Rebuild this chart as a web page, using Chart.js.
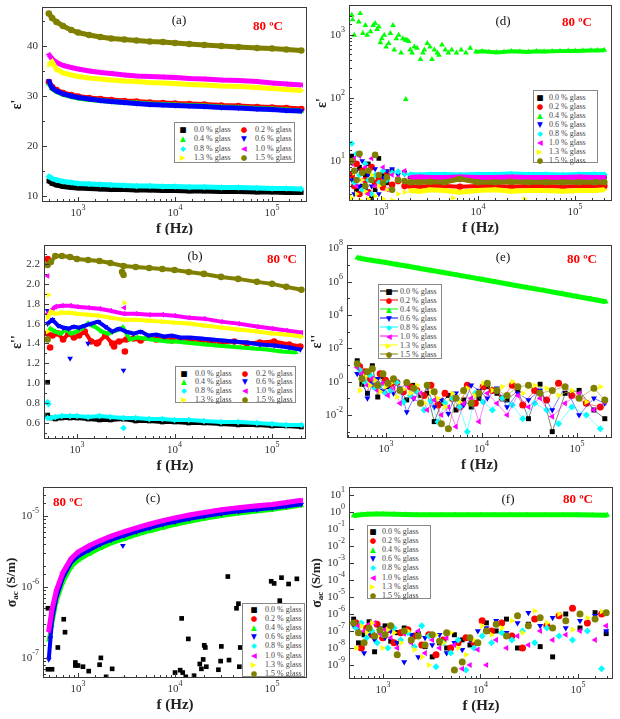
<!DOCTYPE html>
<html>
<head>
<meta charset="utf-8">
<script src="https://cdn.jsdelivr.net/npm/chart.js@4.4.1/dist/chart.umd.min.js"></script>
<style>
  body { margin: 0; background: #fff; width: 620px; height: 719px; overflow: hidden; position: relative; }
  .panel { position: absolute; }
  .panel canvas { position: absolute; left: 0; top: 0; }
  .lg { position: absolute; background: #fff; border: 1px solid #888; box-sizing: border-box; }
  .lg span { position: absolute; white-space: nowrap; line-height: 1; }
  .lg .g { font: 7.5px "DejaVu Sans", sans-serif; transform: translate(-50%, -50%); }
  .lg .t { font: 8px "Liberation Serif", serif; color: #444; transform: translateY(-50%); }
  .lg .ln { height: 1px; transform: translateY(-50%); }
</style>
</head>
<body>
<script>
// 系列の共通情報
const LABELS = ['0.0 % glass', '0.2 % glass', '0.4 % glass', '0.6 % glass', '0.8 % glass', '1.0 % glass', '1.3 % glass', '1.5 % glass'];
const COLORS = ['#000000', '#ff0000', '#00ff00', '#0000ff', '#00ffff', '#ff00ff', '#ffff00', '#808000'];
const SHAPES = ['rect', 'circle', 'triangle', 'triangle', 'rectRot', 'triangle', 'triangle', 'circle'];
const TURNS = [0, 0, 0, 180, 0, 270, 90, 0];
const GLYPHS = ['■', '●', '▲', '▼', '◆', '◀', '▶', '●'];

// 周波数 (Hz)
const freqS = [500, 540, 600, 700, 850, 1000, 1300, 1700, 2200, 3000, 4000, 5500, 7500, 10000, 14000, 20000, 30000, 45000, 70000, 100000, 140000, 200000];
const freqN1 = [500, 560, 640, 720, 820, 930, 1050, 1200, 1400, 1650, 1950, 2300, 2700, 3200, 3800, 4500, 5400, 6500, 7800, 9400, 11500, 14500, 18500, 24000, 31000, 41000, 55000, 75000, 105000, 150000, 195000];
const freqN2 = [530, 600, 680, 770, 870, 990, 1120, 1300, 1520, 1800, 2100, 2500, 2950, 3500, 4150, 4950, 5900, 7100, 8600, 10400, 13000, 16500, 21000, 27000, 36000, 48000, 64000, 88000, 125000, 175000];
const freqD = [500, 530, 560, 600, 640, 690, 740, 800, 870, 950, 1050, 1150, 1300, 1500, 1750, 2000, 2500, 3200, 4500, 6500, 10000, 15000, 22000, 33000, 50000, 75000, 110000, 160000, 200000];

// (a) ε'
const aBlack = [13.0, 12.5, 12.2, 11.9, 11.7, 11.6, 11.5, 11.4, 11.3, 11.3, 11.2, 11.2, 11.1, 11.1, 11.0, 11.0, 10.9, 10.9, 10.8, 10.8, 10.7, 10.7];
const aRed = [32.8, 31.8, 31.2, 30.6, 30.2, 29.9, 29.6, 29.4, 29.2, 29.0, 28.9, 28.7, 28.6, 28.5, 28.4, 28.3, 28.1, 28.0, 27.8, 27.7, 27.6, 27.4];
const aGreen = [32.5, 31.5, 30.9, 30.3, 29.9, 29.6, 29.3, 29.1, 28.9, 28.7, 28.6, 28.4, 28.3, 28.2, 28.1, 28.0, 27.8, 27.7, 27.5, 27.4, 27.2, 27.0];
const aBlue = [33.0, 31.6, 31.0, 30.4, 30.0, 29.7, 29.4, 29.1, 28.9, 28.7, 28.5, 28.3, 28.2, 28.1, 28.0, 27.9, 27.7, 27.6, 27.4, 27.3, 27.1, 27.0];
const aCyan = [13.9, 13.5, 13.2, 12.9, 12.7, 12.5, 12.4, 12.3, 12.2, 12.1, 12.0, 12.0, 11.9, 11.9, 11.8, 11.8, 11.7, 11.7, 11.6, 11.5, 11.5, 11.4];
const aMagenta = [38.3, 37.4, 36.7, 36.1, 35.7, 35.4, 35.0, 34.7, 34.5, 34.2, 34.0, 33.9, 33.8, 33.7, 33.5, 33.4, 33.2, 33.1, 32.9, 32.6, 32.4, 32.2];
const aYellow = [36.2, 36.8, 35.3, 34.6, 34.2, 33.9, 33.6, 33.4, 33.2, 33.0, 32.9, 32.7, 32.6, 32.5, 32.3, 32.2, 32.0, 31.9, 31.7, 31.5, 31.3, 31.1];
const aOlive = [46.5, 45.6, 44.8, 44.0, 43.2, 42.7, 42.2, 41.8, 41.5, 41.3, 41.1, 40.9, 40.8, 40.6, 40.4, 40.2, 40.0, 39.8, 39.6, 39.5, 39.3, 39.1];

// (b) ε''
const bBlack = [0.68, 0.65, 0.64, 0.65, 0.65, 0.65, 0.64, 0.63, 0.63, 0.64, 0.62, 0.62, 0.61, 0.61, 0.60, 0.60, 0.59, 0.58, 0.58, 0.57, 0.57, 0.56];
const bCyan = [0.65, 0.65, 0.66, 0.67, 0.67, 0.67, 0.66, 0.67, 0.66, 0.65, 0.65, 0.64, 0.64, 0.63, 0.63, 0.62, 0.61, 0.61, 0.60, 0.59, 0.58, 0.58];
const bMagenta = [1.70, 1.73, 1.77, 1.78, 1.78, 1.77, 1.76, 1.75, 1.73, 1.70, 1.70, 1.69, 1.69, 1.68, 1.66, 1.65, 1.62, 1.60, 1.57, 1.55, 1.53, 1.51];
const bYellow = [1.66, 1.72, 1.70, 1.71, 1.71, 1.70, 1.69, 1.68, 1.66, 1.64, 1.64, 1.63, 1.62, 1.61, 1.60, 1.58, 1.56, 1.54, 1.52, 1.50, 1.49, 1.47];
const bOlive = [2.19, 2.22, 2.28, 2.28, 2.27, 2.25, 2.24, 2.23, 2.21, 2.18, 2.17, 2.16, 2.15, 2.14, 2.12, 2.10, 2.07, 2.05, 2.02, 2.00, 1.97, 1.94];
const bRed = [1.50, 1.48, 1.50, 1.44, 1.50, 1.46, 1.48, 1.52, 1.42, 1.41, 1.48, 1.40, 1.42, 1.44, 1.45, 1.43, 1.46, 1.44, 1.45, 1.43, 1.44, 1.42, 1.43, 1.42, 1.41, 1.42, 1.40, 1.41, 1.42, 1.39, 1.37];
const bGreen = [1.55, 1.52, 1.50, 1.54, 1.50, 1.52, 1.55, 1.60, 1.57, 1.52, 1.50, 1.53, 1.56, 1.44, 1.46, 1.45, 1.44, 1.43, 1.42, 1.42, 1.41, 1.40, 1.39, 1.38, 1.37, 1.36, 1.35, 1.34, 1.32, 1.31];
const bBlue = [1.60, 1.64, 1.58, 1.56, 1.55, 1.57, 1.56, 1.58, 1.60, 1.62, 1.57, 1.52, 1.55, 1.52, 1.50, 1.52, 1.48, 1.49, 1.47, 1.48, 1.46, 1.46, 1.45, 1.44, 1.43, 1.42, 1.41, 1.39, 1.38, 1.36, 1.34];
const bBlackOutF = [500], bBlackOutV = [1.01];
const bRedOutF = [500, 530, 1600, 2400, 3100], bRedOutV = [2.25, 1.36, 1.40, 1.37, 1.32];
const bGreenOutF = [510], bGreenOutV = [1.70];
const bBlueOutF = [500, 850, 1300, 3000], bBlueOutV = [1.73, 1.25, 1.40, 1.13];
const bCyanOutF = [500, 510, 3000], bCyanOutV = [0.81, 0.79, 0.55];
const bMagentaOutF = [500, 3050], bMagentaOutV = [2.08, 1.76];
const bYellowOutF = [500, 510, 3050], bYellowOutV = [1.52, 1.89, 1.81];
const bOliveOutF = [500, 2900, 3000], bOliveOutV = [1.44, 2.12, 2.09];

// (c) σac
const cGreen = [1.8e-7, 2.9e-7, 6.2e-7, 1.15e-6, 1.9e-6, 2.35e-6, 2.9e-6, 3.5e-6, 4.1e-6, 4.7e-6, 5.4e-6, 6.1e-6, 6.8e-6, 7.5e-6, 8.3e-6, 9.1e-6, 1.0e-5, 1.08e-5, 1.16e-5, 1.22e-5, 1.3e-5, 1.4e-5];
const cBlue = [9.5e-8, 3.4e-7, 7.2e-7, 1.35e-6, 2.2e-6, 2.7e-6, 3.3e-6, 4.0e-6, 4.6e-6, 5.3e-6, 6.0e-6, 6.8e-6, 7.6e-6, 8.3e-6, 9.1e-6, 9.9e-6, 1.08e-5, 1.16e-5, 1.23e-5, 1.29e-5, 1.37e-5, 1.46e-5];
const cMagenta = [2.4e-7, 4.8e-7, 9e-7, 1.6e-6, 2.5e-6, 3.1e-6, 3.8e-6, 4.5e-6, 5.2e-6, 6.0e-6, 6.8e-6, 7.7e-6, 8.6e-6, 9.4e-6, 1.03e-5, 1.12e-5, 1.22e-5, 1.31e-5, 1.39e-5, 1.45e-5, 1.55e-5, 1.66e-5];
const cBlueOutF = [520, 2900], cBlueOutV = [1.9e-7, 3.8e-6];
const cBlackF = [490, 490, 540, 620, 713, 735, 940, 940, 1000, 1125, 1290, 1670, 1720, 1950, 2250, 2990, 10000, 11300, 11700, 12000, 12900, 13700, 15700, 18000, 18700, 19500, 20000, 20500, 21000, 28000, 29500, 30000, 35000, 36000, 43000, 45000, 46000, 47000, 98000, 105000, 120000, 125000, 148000, 180000];
const cBlackV = [5e-7, 6.9e-8, 6.9e-8, 1.4e-7, 3.5e-7, 2.3e-7, 7.8e-8, 8.6e-8, 7.8e-8, 7.5e-8, 6.5e-8, 8e-8, 1.0e-7, 5.4e-8, 7e-8, 5e-8, 6.2e-8, 6.7e-8, 3.6e-7, 6.2e-8, 5.4e-8, 1.85e-7, 5.6e-8, 8.2e-8, 7e-8, 9.5e-8, 1.5e-7, 1.4e-7, 7.5e-8, 6.8e-8, 9e-8, 1.45e-7, 1.4e-6, 9.3e-8, 5e-7, 5.8e-7, 7.5e-8, 1.4e-7, 1.2e-6, 1.12e-6, 6.4e-7, 1.35e-6, 1.1e-6, 1.3e-6];

// (d) ε' (log)
const dBlack = [12, 5, 3.5, 8, 4, 6, 9, 2.6, 3.5, 11, 6, 4.5, 7, 5, 6.5, 5.6, 5.6, 5.7, 5.6, 5.6, 5.7, 5.6, 5.6, 5.7, 5.6, 5.6, 5.6, 5.6, 5.6];
const dRed = [6, 4, 9, 3, 7, 5, 3.2, 8, 4.5, 5.5, 3.8, 6.5, 4.2, 4.8, 4.0, 4.0, 3.9, 4.0, 4.0, 3.9, 4.0, 4.0, 3.9, 4.0, 4.0, 3.9, 4.0, 4.0, 4.0];
const dBlue = [5, 3, 7, 4, 10, 3.5, 6, 4, 7.5, 3, 5.5, 7, 7.5, 6, 6.2, 5.9, 5.8, 5.8, 5.9, 5.8, 5.8, 5.9, 5.8, 5.8, 5.9, 5.8, 5.8, 5.8, 5.8];
const dCyan = [19, 4.5, 13, 6, 3.5, 9, 5, 3, 6, 4.5, 7, 5, 6.5, 6.8, 6.3, 6.1, 6.0, 6.1, 6.1, 6.0, 6.1, 6.1, 6.2, 6.1, 6.1, 6.0, 6.1, 6.1, 6.1];
const dMagenta = [9, 11, 4, 12, 5, 8, 3, 11, 4, 6, 8, 3.5, 6, 5.5, 7, 5.5, 5.6, 5.5, 5.5, 5.6, 5.5, 5.5, 5.6, 5.5, 5.5, 5.5, 5.6, 5.5, 5.5];
const dYellow = [2.6, 6.5, 3, 2.4, 5, 3.3, 2.5, 6, 2.8, 4, 2.5, 3.5, 2.4, 3.0, 3.2, 3.4, 3.3, 3.5, 3.4, 3.2, 3.4, 3.5, 3.3, 3.4, 3.4, 3.3, 3.4, 3.4, 3.5];
const dOlive = [10, 7, 5, 13, 6.5, 4, 7, 5, 12.5, 6, 4.5, 5.5, 3.5, 5.0, 4.8, 4.6, 4.6, 4.7, 4.6, 5.2, 4.6, 4.6, 4.7, 4.6, 4.6, 4.6, 4.6, 4.6, 4.6];
const dYellowOutF = [5500, 30000], dYellowOutV = [2.6, 2.5];
const dGreenF = [500, 510, 530, 590, 610, 650, 690, 720, 780, 830, 870, 910, 950, 985, 1020, 1080, 1130, 1200, 1250, 1330, 1370, 1440, 1520, 1610, 1680, 1780, 1800, 1850, 1930, 2000, 2090, 2200, 2350, 2550, 2700, 2800, 3000, 3200, 3350, 3550, 3800, 3950, 4250, 4600, 4950, 5350, 6000, 6700, 7500, 8300, 9500, 11000, 13000, 15500, 18500, 22000, 27000, 33000, 40000, 48000, 58000, 70000, 85000, 100000, 120000, 145000, 170000, 200000];
const dGreenV = [2080, 1750, 1000, 1620, 2200, 1060, 1430, 1000, 1130, 1430, 1530, 1230, 1350, 760, 880, 1000, 650, 740, 1060, 1430, 580, 880, 1000, 520, 880, 830, 95, 830, 790, 580, 520, 650, 620, 410, 520, 580, 740, 650, 410, 580, 520, 480, 700, 580, 520, 580, 520, 580, 520, 620, 540, 550, 540, 530, 540, 550, 545, 540, 550, 545, 550, 555, 560, 560, 565, 570, 570, 575];

// (e) ε'' (log)
const eGreen = [2.7e7, 2.5e7, 2.2e7, 1.9e7, 1.6e7, 1.4e7, 1.08e7, 8.3e6, 6.4e6, 4.7e6, 3.5e6, 2.55e6, 1.87e6, 1.38e6, 9.8e5, 6.8e5, 4.5e5, 3.0e5, 1.9e5, 1.3e5, 9.2e4, 6.2e4];
const eBlack = [18, 0.7, 0.2, 9, 0.12, 2, 0.5, 1.2, 0.3, 0.08, 0.6, 0.15, 0.2, 0.004, 0.05, 0.15, 0.02, 0.08, 0.03, 0.1, 0.5, 0.2, 0.08, 0.3, 0.006, 0.7, 0.001, 0.2, 0.3, 0.02, 0.006];
const eRed = [8, 4, 1.5, 0.5, 3, 1.2, 0.7, 0.9, 0.25, 0.5, 0.3, 0.15, 0.6, 0.04, 0.2, 0.1, 0.03, 0.6, 0.05, 0.5, 0.3, 0.1, 0.6, 0.04, 0.3, 0.08, 0.8, 0.15, 0.05, 0.03];
const eBlue = [3, 2, 0.1, 0.8, 1.5, 0.3, 0.6, 0.2, 0.4, 0.015, 0.1, 0.05, 0.5, 0.03, 0.08, 0.012, 0.2, 0.04, 0.6, 0.3, 0.1, 0.4, 0.03, 0.2, 0.08, 0.3, 0.02, 0.5, 0.01, 0.1, 0.05];
const eCyan = [5, 1, 2.5, 0.4, 0.6, 0.2, 0.3, 0.9, 0.06, 0.15, 0.25, 0.02, 0.07, 0.004, 0.05, 0.1, 0.03, 0.001, 0.2, 0.06, 0.02, 0.1, 0.04, 0.006, 0.05, 0.02, 0.003, 0.03, 0.01, 0.0015];
const eMagenta = [7, 3, 0.6, 1.5, 0.3, 0.8, 0.15, 0.4, 0.05, 0.6, 0.1, 0.2, 0.02, 0.08, 0.01, 0.03, 0.002, 0.05, 0.1, 0.004, 0.2, 0.05, 0.01, 0.15, 0.03, 0.1, 0.008, 0.05, 0.2, 0.02, 0.06];
const eYellow = [0.3, 2, 0.6, 1.2, 0.25, 0.5, 0.8, 0.12, 0.35, 0.2, 0.6, 0.05, 0.25, 0.1, 0.03, 0.2, 0.06, 0.4, 0.15, 0.8, 0.3, 0.5, 1.0, 0.2, 0.6, 0.4, 0.15, 0.3, 0.06, 0.5];
const eOlive = [12, 1.5, 4, 6, 0.6, 3, 0.8, 1.5, 0.3, 0.9, 0.4, 0.05, 0.6, 0.25, 0.003, 0.0015, 0.1, 0.3, 0.05, 0.2, 0.8, 0.3, 0.15, 0.5, 0.6, 0.2, 0.3, 0.5, 0.1, 0.4, 0.08];

// (f) σac (log)
const fGreen = [0.62, 0.64, 0.7, 0.74, 0.76, 0.76, 0.74, 0.7, 0.68, 0.68, 0.68, 0.68, 0.68, 0.68, 0.68, 0.68, 0.68, 0.68, 0.68, 0.68, 0.67, 0.65];
const fBlack = [5e-7, 2e-8, 6e-8, 3.5e-7, 6e-9, 1e-7, 2e-7, 2.5e-8, 8e-8, 1.5e-7, 3e-8, 7e-8, 1.2e-8, 3e-9, 2e-8, 1e-8, 6e-8, 3e-8, 1.5e-8, 2e-8, 3e-7, 1e-7, 5e-7, 1e-8, 2.5e-7, 1.2e-8, 3e-9, 1e-6, 1.5e-7, 1.2e-6, 7e-8];
const fRed = [3e-7, 1e-8, 1.5e-7, 6e-8, 2.5e-7, 4e-8, 1.2e-7, 2e-8, 8e-8, 1.2e-7, 5e-8, 1.5e-8, 6e-8, 4e-9, 3e-8, 1e-8, 2e-8, 4e-8, 2e-8, 4e-7, 1e-7, 3e-7, 5e-8, 1e-8, 5e-7, 2e-7, 8e-7, 2.2e-6, 3e-7, 1e-6];
const fBlue = [2e-7, 1.5e-7, 5e-9, 8e-8, 3e-8, 1.5e-7, 4e-8, 1e-7, 2e-8, 1.5e-9, 6e-8, 3e-9, 4e-8, 1.5e-8, 6e-8, 5e-9, 2e-8, 8e-9, 3e-8, 1e-7, 1.5e-7, 4e-7, 8e-8, 3e-7, 1.2e-6, 2e-7, 6e-7, 1.5e-7, 4e-7, 8e-7, 1e-7];
const fCyan = [1.5e-7, 3e-7, 4e-8, 1e-7, 2e-8, 6e-8, 1e-8, 1.5e-7, 3e-8, 8e-8, 1.2e-8, 2e-7, 5e-8, 8e-10, 2e-8, 5e-9, 3e-8, 5e-10, 1e-8, 5e-8, 2e-8, 8e-8, 3e-8, 1e-7, 2e-8, 1.5e-7, 5e-8, 3e-8, 1e-7, 6e-10];
const fMagenta = [3e-7, 2e-7, 1e-7, 2.5e-7, 3e-7, 6e-8, 1.2e-7, 4e-8, 1e-8, 7e-8, 2e-8, 1e-7, 5e-9, 3e-8, 1e-8, 4e-8, 1.5e-8, 6e-10, 1e-9, 8e-9, 1e-9, 3e-8, 1e-8, 5e-8, 1.5e-8, 1e-7, 3e-8, 6e-8, 1e-7, 3e-8, 2e-7];
const fYellow = [1e-8, 2e-7, 8e-8, 3e-7, 5e-8, 1e-8, 1.2e-7, 8e-8, 2e-8, 1e-7, 8e-9, 3e-9, 1e-9, 6e-8, 2e-8, 8e-8, 1e-8, 4e-9, 3e-8, 2e-7, 6e-8, 1.5e-7, 4e-7, 8e-8, 1.5e-6, 3e-7, 1e-6, 1.2e-7, 6e-7, 1.4e-6];
const fOlive = [3e-7, 8e-8, 2e-8, 1.5e-7, 5e-8, 1.2e-7, 6e-8, 2e-7, 4e-9, 1e-7, 3e-8, 5e-8, 1.5e-8, 6e-8, 2.5e-8, 8e-8, 5e-10, 1.5e-9, 4e-8, 2e-8, 1e-7, 2.5e-7, 5e-8, 8e-7, 2e-7, 6e-7, 1.5e-7, 4e-7, 1e-6, 5e-7, 1.2e-6];

const FONT = '"Liberation Serif", "Times New Roman", serif';
const EPS1 = [{ t: "ε'", f: 'bold 14px' }];
const EPS2 = [{ t: "ε''", f: 'bold 14px' }];
const SIGMA = [{ t: 'σ', f: 'bold 14px' }, { t: 'ac', f: 'bold 9px', dy: 4 }, { t: ' (S/m)', f: 'bold 13px' }];

/**
 * データセット作成
 */
function series(k, f, v, o = {}) {
    const band = o.band || 0;
    const thin = o.thin || 0;
    const ds = {
        data: f.map((x, i) => ({ x: x, y: v[i] })),
        pointStyle: SHAPES[k],
        pointRotation: TURNS[k],
        pointRadius: o.r || 3.3,
        pointBorderWidth: 0,
        pointBackgroundColor: COLORS[k],
        backgroundColor: COLORS[k],
        borderColor: COLORS[k],
        showLine: band > 0 || thin > 0,
        borderWidth: band || thin || 1,
        tension: 0,
        clip: 0
    };
    if (band && o.from) {
        // 指定周波数より前は線を描かない
        ds.segment = { borderColor: c => (c.p0.parsed.x >= o.from ? COLORS[k] : 'rgba(0,0,0,0)') };
    }
    return ds;
}

const PANELS = [
    {
        x: 0, y: 0, w: 310, h: 235, area: [42, 7, 307, 202], xr: [425, 229000],
        yType: 'linear', yr: [8.8, 47.8], yStep: 5, yEvery: 10, yFix: 0,
        yTitle: EPS1, yTitleX: 17, tag: '(a)', tagAt: [179, 21], tempAt: [268, 27],
        legend: { x: 174, y: 122, w: 121, h: 41, cols: 2, colW: 61, gx: 8, tx: 19, y0: 5.5, rowH: 9.6 },
        sets: () => [
            series(0, freqS, aBlack, { band: 5 }), series(1, freqS, aRed, { band: 5 }),
            series(2, freqS, aGreen, { band: 5 }), series(3, freqS, aBlue, { band: 5 }),
            series(4, freqS, aCyan, { band: 5 }), series(5, freqS, aMagenta, { band: 5 }),
            series(6, freqS, aYellow, { band: 5 }), series(7, freqS, aOlive, { band: 5 })
        ]
    },
    {
        x: 310, y: 0, w: 310, h: 235, area: [39, 5, 302, 201], xr: [468, 240000],
        yType: 'logarithmic', yr: [2.32, 2995], yEvery: 1, yMinor: true,
        yTitle: EPS1, yTitleX: 12, tag: '(d)', tagAt: [193, 22], tempAt: [267, 23],
        legend: { x: 223, y: 90, w: 65, h: 73, cols: 1, colW: 0, gx: 6, tx: 15, y0: 5.5, rowH: 9.1 },
        sets: () => [
            series(0, freqD, dBlack, { band: 5, from: 1900 }), series(1, freqD, dRed, { band: 4, from: 1900 }),
            series(2, dGreenF, dGreenV, { band: 4, from: 9000 }), series(3, freqD, dBlue, { band: 5, from: 1900 }),
            series(4, freqD, dCyan, { band: 5, from: 1900 }), series(5, freqD, dMagenta, { band: 5, from: 1900 }),
            series(6, freqD, dYellow, { band: 5, from: 1900 }), series(6, dYellowOutF, dYellowOutV),
            series(7, freqD, dOlive, { band: 5, from: 1900 })
        ]
    },
    {
        x: 0, y: 235, w: 310, h: 240, area: [44, 10, 306, 204], xr: [459, 223000],
        yType: 'linear', yr: [0.439, 2.391], yStep: 0.1, yEvery: 0.2, yFix: 1,
        yTitle: EPS2, yTitleX: 17, tag: '(b)', tagAt: [195, 22], tempAt: [282, 25],
        legend: { x: 175, y: 131, w: 121, h: 37, cols: 2, colW: 61, gx: 8, tx: 19, y0: 5.5, rowH: 8.8 },
        sets: () => [
            series(0, freqS, bBlack, { band: 4 }), series(0, bBlackOutF, bBlackOutV),
            series(1, freqN1, bRed, { band: 4 }), series(1, bRedOutF, bRedOutV),
            series(2, freqN2, bGreen, { band: 4 }), series(2, bGreenOutF, bGreenOutV),
            series(3, freqN1, bBlue, { band: 4 }), series(3, bBlueOutF, bBlueOutV),
            series(4, freqS, bCyan, { band: 4 }), series(4, bCyanOutF, bCyanOutV),
            series(5, freqS, bMagenta, { band: 4 }), series(5, bMagentaOutF, bMagentaOutV),
            series(6, freqS, bYellow, { band: 4 }), series(6, bYellowOutF, bYellowOutV),
            series(7, freqS, bOlive, { band: 4 }), series(7, bOliveOutF, bOliveOutV)
        ]
    },
    {
        x: 310, y: 235, w: 310, h: 240, area: [37, 10, 302, 203], xr: [391, 232000],
        yType: 'logarithmic', yr: [4.17e-4, 1.58e8], yEvery: 2, yMinor: false,
        yTitle: EPS2, yTitleX: 7, tag: '(e)', tagAt: [193, 23], tempAt: [272, 25],
        legend: { x: 68, y: 49, w: 64, h: 75, cols: 1, colW: 0, gx: 10, tx: 21, y0: 6, rowH: 9, line: [1, 19] },
        sets: () => [
            series(0, freqN1, eBlack, { thin: 0.5, r: 3.5 }), series(1, freqN2, eRed, { thin: 0.5, r: 3.5 }),
            series(2, freqS, eGreen, { band: 5 }), series(3, freqN1, eBlue, { thin: 0.5, r: 3.5 }),
            series(4, freqN2, eCyan, { thin: 0.5, r: 3.5 }), series(5, freqN1, eMagenta, { thin: 0.5, r: 3.5 }),
            series(6, freqN2, eYellow, { thin: 0.5, r: 3.5 }), series(7, freqN1, eOlive, { thin: 0.5, r: 3.5 })
        ]
    },
    {
        x: 0, y: 475, w: 310, h: 244, area: [43, 12, 307, 203], xr: [436, 229000],
        yType: 'logarithmic', yr: [5.2e-8, 2.56e-5], yEvery: 1, yMinor: true,
        yTitle: SIGMA, yTitleX: 12, tag: '(c)', tagAt: [153, 24], tempAt: [68, 28],
        legend: { x: 242, y: 128, w: 63, h: 74, cols: 1, colW: 0, gx: 11, tx: 22, y0: 5, rowH: 9.1 },
        sets: () => [
            series(0, cBlackF, cBlackV), series(2, freqS, cGreen, { band: 4 }),
            series(3, freqS, cBlue, { band: 4 }), series(3, cBlueOutF, cBlueOutV),
            series(5, freqS, cMagenta, { band: 5 })
        ]
    },
    {
        x: 310, y: 475, w: 310, h: 244, area: [39, 12, 303, 204], xr: [448, 229000],
        yType: 'logarithmic', yr: [1.5e-10, 29.5], yEvery: 1, yMinor: false,
        yTitle: SIGMA, yTitleX: 7, tag: '(f)', tagAt: [198, 25], tempAt: [268, 25],
        legend: { x: 57, y: 50, w: 64, h: 74, cols: 1, colW: 0, gx: 5, tx: 14, y0: 4.5, rowH: 9.2 },
        sets: () => [
            series(0, freqN1, fBlack, { r: 3.5 }), series(1, freqN2, fRed, { r: 3.5 }), series(2, freqS, fGreen, { band: 5 }),
            series(3, freqN1, fBlue, { r: 3.5 }), series(4, freqN2, fCyan, { r: 3.5 }), series(5, freqN1, fMagenta, { r: 3.5 }),
            series(6, freqN2, fYellow, { r: 3.5 }), series(7, freqN1, fOlive, { r: 3.5 })
        ]
    }
];

function isDecade(v) {
    const l = Math.log10(v);
    return Math.abs(l - Math.round(l)) < 1e-9;
}

// 10^n 形式のラベル
function drawPow(ctx, x, y, e, align) {
    ctx.font = `11px ${FONT}`;
    const wb = ctx.measureText('10').width;
    ctx.font = `8px ${FONT}`;
    const es = String(e);
    const we = ctx.measureText(es).width;
    const sx = align === 'center' ? x - (wb + we) / 2 : x - wb - we;
    ctx.textAlign = 'left';
    ctx.textBaseline = 'middle';
    ctx.font = `11px ${FONT}`;
    ctx.fillText('10', sx, y);
    ctx.font = `8px ${FONT}`;
    ctx.fillText(es, sx + wb, y - 5);
}

// y軸目盛りの種類（true: 主目盛り, false: 補助目盛り, null: なし）
function yKind(v, o) {
    if (o.yType === 'linear') {
        const q = v / o.yEvery;
        return Math.abs(q - Math.round(q)) < 1e-6;
    }
    if (isDecade(v)) return Math.round(Math.log10(v)) % o.yEvery === 0;
    return o.yMinor ? false : null;
}

const decor = {
    id: 'decor',
    afterDatasetsDraw(chart, args, o) {
        const { ctx, chartArea: ca } = chart;
        const xs = chart.scales.x, ys = chart.scales.y;
        ctx.save();
        ctx.strokeStyle = '#3a3a3a';
        ctx.lineWidth = 1;
        ctx.strokeRect(ca.left + 0.5, ca.top + 0.5, ca.right - ca.left - 1, ca.bottom - ca.top - 1);

        // 内向き目盛り
        ctx.beginPath();
        xs.ticks.forEach(t => {
            const p = Math.round(xs.getPixelForValue(t.value)) + 0.5;
            if (p <= ca.left + 1 || p >= ca.right - 1) return;
            const len = isDecade(t.value) ? 5 : 3;
            ctx.moveTo(p, ca.bottom);
            ctx.lineTo(p, ca.bottom - len);
        });
        ys.ticks.forEach(t => {
            const kind = yKind(t.value, o);
            if (kind === null) return;
            const p = Math.round(ys.getPixelForValue(t.value)) + 0.5;
            if (p <= ca.top + 1 || p >= ca.bottom - 1) return;
            ctx.moveTo(ca.left, p);
            ctx.lineTo(ca.left + (kind ? 5 : 3), p);
        });
        ctx.stroke();

        // 目盛りラベル
        ctx.fillStyle = '#333';
        xs.ticks.forEach(t => {
            if (!isDecade(t.value)) return;
            const p = xs.getPixelForValue(t.value);
            if (p < ca.left || p > ca.right) return;
            drawPow(ctx, p, ca.bottom + 11, Math.round(Math.log10(t.value)), 'center');
        });
        ys.ticks.forEach(t => {
            if (yKind(t.value, o) !== true) return;
            const p = ys.getPixelForValue(t.value);
            if (p < ca.top - 1 || p > ca.bottom + 1) return;
            if (o.yType === 'linear') {
                ctx.font = `11px ${FONT}`;
                ctx.textAlign = 'right';
                ctx.textBaseline = 'middle';
                ctx.fillText(t.value.toFixed(o.yFix), ca.left - 4, p);
            } else {
                drawPow(ctx, ca.left - 4, p, Math.round(Math.log10(t.value)), 'right');
            }
        });

        // 軸タイトル
        ctx.fillStyle = '#222';
        ctx.font = `bold 15px ${FONT}`;
        ctx.textAlign = 'center';
        ctx.textBaseline = 'middle';
        ctx.fillText('f (Hz)', (ca.left + ca.right) / 2, ca.bottom + 27);

        ctx.save();
        ctx.translate(o.yTitleX, (ca.top + ca.bottom) / 2);
        ctx.rotate(-Math.PI / 2);
        ctx.textAlign = 'left';
        let total = 0;
        o.yTitle.forEach(pc => { ctx.font = `${pc.f} ${FONT}`; total += ctx.measureText(pc.t).width; });
        let cx = -total / 2;
        o.yTitle.forEach(pc => {
            ctx.font = `${pc.f} ${FONT}`;
            ctx.fillText(pc.t, cx, pc.dy || 0);
            cx += ctx.measureText(pc.t).width;
        });
        ctx.restore();

        // パネル記号と温度
        ctx.textAlign = 'center';
        ctx.fillStyle = '#111';
        ctx.font = `13px ${FONT}`;
        ctx.fillText(o.tag, o.tagAt[0], o.tagAt[1]);
        ctx.fillStyle = '#ff0000';
        ctx.font = `bold 13px ${FONT}`;
        ctx.fillText('80 ºC', o.tempAt[0], o.tempAt[1]);
        ctx.restore();
    }
};

// 凡例（HTML）
function buildLegend(box, L) {
    const el = document.createElement('div');
    el.className = 'lg';
    el.style.left = L.x + 'px';
    el.style.top = L.y + 'px';
    el.style.width = L.w + 'px';
    el.style.height = L.h + 'px';
    LABELS.forEach((name, i) => {
        const col = i % L.cols;
        const row = Math.floor(i / L.cols);
        const cy = L.y0 + row * L.rowH;
        const ox = col * L.colW;
        if (L.line) {
            const ln = document.createElement('span');
            ln.className = 'ln';
            ln.style.left = (ox + L.line[0]) + 'px';
            ln.style.width = (L.line[1] - L.line[0]) + 'px';
            ln.style.top = cy + 'px';
            ln.style.background = COLORS[i];
            el.appendChild(ln);
        }
        const g = document.createElement('span');
        g.className = 'g';
        g.textContent = GLYPHS[i];
        g.style.color = COLORS[i];
        g.style.left = (ox + L.gx) + 'px';
        g.style.top = cy + 'px';
        el.appendChild(g);
        const t = document.createElement('span');
        t.className = 't';
        t.textContent = name;
        t.style.left = (ox + L.tx) + 'px';
        t.style.top = cy + 'px';
        el.appendChild(t);
    });
    box.appendChild(el);
}

PANELS.forEach(p => {
    const box = document.createElement('div');
    box.className = 'panel';
    box.style.left = p.x + 'px';
    box.style.top = p.y + 'px';
    box.style.width = p.w + 'px';
    box.style.height = p.h + 'px';
    const cv = document.createElement('canvas');
    cv.width = p.w;
    cv.height = p.h;
    box.appendChild(cv);
    document.body.appendChild(box);

    // 先頭のデータセットが最前面に描かれるので逆順にする
    const datasets = p.sets().reverse();

    new Chart(cv, {
        type: 'scatter',
        data: { datasets: datasets },
        options: {
            responsive: false,
            animation: false,
            events: [],
            layout: {
                autoPadding: false,
                padding: { left: 0, top: p.area[1], right: p.w - p.area[2], bottom: 0 }
            },
            plugins: {
                legend: { display: false },
                tooltip: { enabled: false },
                decor: {
                    yType: p.yType, yEvery: p.yEvery, yMinor: p.yMinor, yFix: p.yFix,
                    yTitle: p.yTitle, yTitleX: p.yTitleX, tag: p.tag, tagAt: p.tagAt, tempAt: p.tempAt
                }
            },
            scales: {
                x: {
                    type: 'logarithmic',
                    min: p.xr[0],
                    max: p.xr[1],
                    grid: { display: false },
                    border: { display: false },
                    ticks: { display: false, autoSkip: false },
                    afterFit: s => { s.height = p.h - p.area[3]; }
                },
                y: {
                    type: p.yType,
                    min: p.yr[0],
                    max: p.yr[1],
                    grid: { display: false },
                    border: { display: false },
                    ticks: { display: false, autoSkip: false, stepSize: p.yStep, includeBounds: false },
                    afterFit: s => { s.width = p.area[0]; }
                }
            }
        },
        plugins: [decor]
    });

    buildLegend(box, p.legend);
});
</script>
</body>
</html>
